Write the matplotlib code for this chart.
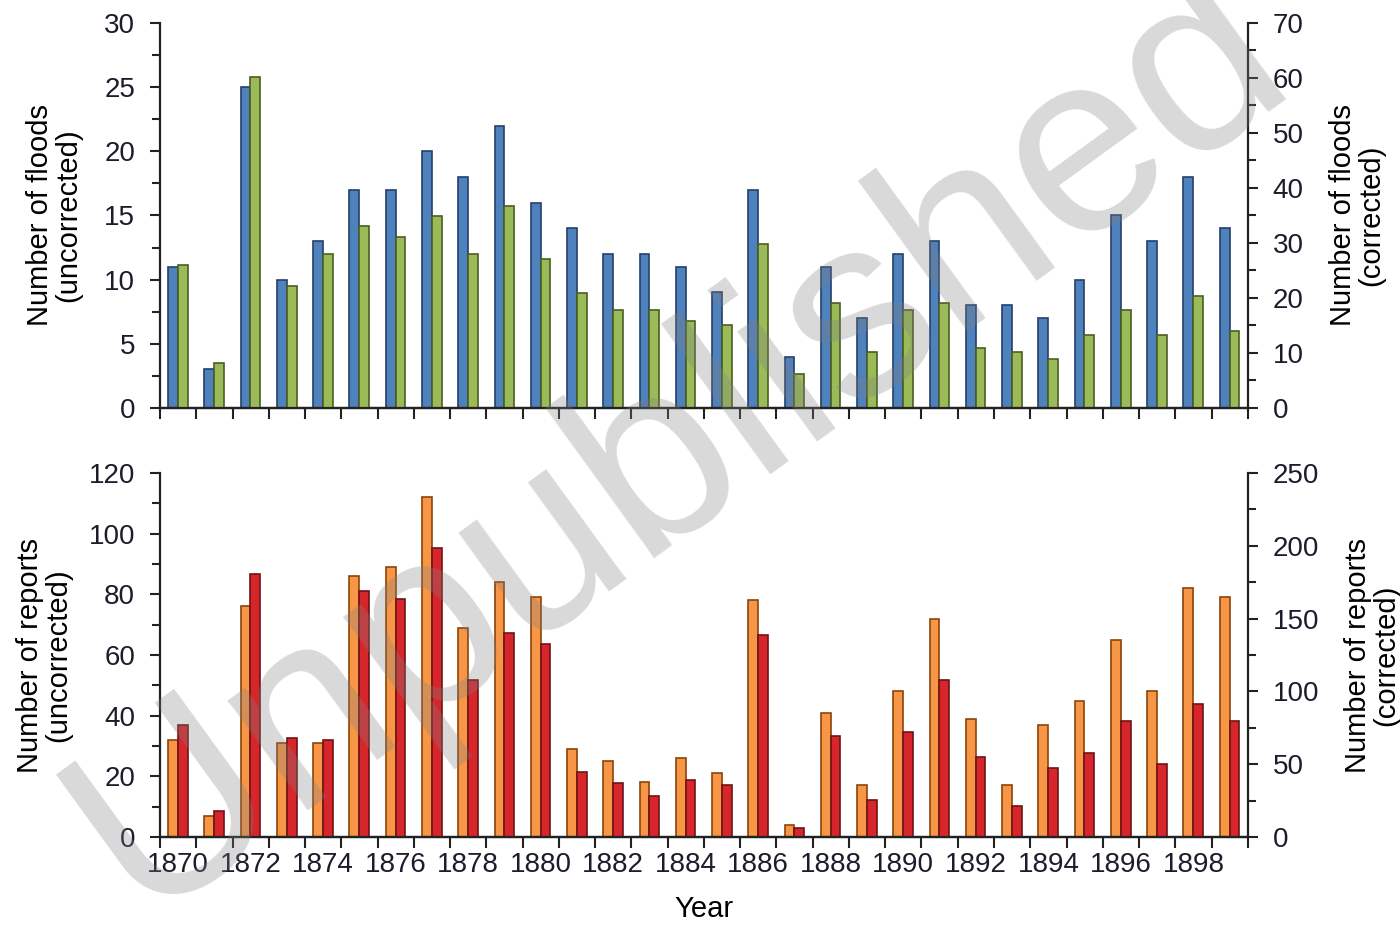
import numpy as np
import matplotlib
matplotlib.use("Agg")
import matplotlib.pyplot as plt

plt.rcParams['font.family'] = ['Liberation Sans', 'DejaVu Sans']

years = list(range(1870, 1900))

# floods per year
floods_uncorrected = [11, 3, 25, 10, 13, 17, 17, 20, 18, 22,
                      16, 14, 12, 12, 11, 9, 17, 4, 11, 7,
                      12, 13, 8, 8, 7, 10, 15, 13, 18, 14]
floods_corrected = [26, 8.1, 60.1, 22.1, 28, 33, 31, 34.9, 28, 36.8,
                    27.1, 20.9, 17.8, 17.8, 15.9, 15.1, 29.8, 6.2, 19.0, 10.1,
                    17.9, 19.1, 10.9, 10.1, 8.9, 13.3, 17.9, 13.3, 20.3, 14.0]

# reports per year
reports_uncorrected = [32, 7, 76, 31, 31, 86, 89, 112, 69, 84,
                       79, 29, 25, 18, 26, 21, 78, 4, 41, 17,
                       48, 72, 39, 17, 37, 45, 65, 48, 82, 79]
reports_corrected = [76.7, 17.9, 180.9, 67.8, 66.4, 169.2, 163.5, 198.8, 107.6, 140.1,
                     132.6, 44.7, 37.3, 28.4, 38.9, 35.7, 138.5, 6.2, 69.4, 25.7,
                     72.4, 107.6, 54.9, 21.1, 47.4, 57.7, 79.7, 50.4, 91.6, 79.7]

tick_color = '#1c1c2c'
fs_tick = 20
fs_label = 21

fig = plt.figure(figsize=(14, 9.26), dpi=100)
ax1 = fig.add_axes([0.1143, 0.5594, 0.777, 0.4158])
ax3 = fig.add_axes([0.1143, 0.0961, 0.777, 0.3931])
ax2 = ax1.twinx()
ax4 = ax3.twinx()

x = np.arange(len(years))
w = 0.27

ax1.bar(x - w / 2 - 0.005, floods_uncorrected, w, color='#4F81BD', edgecolor='#24406A', linewidth=1.2, zorder=2)
ax2.bar(x + w / 2 - 0.005, floods_corrected, w, color='#9BBB59', edgecolor='#4A5E22', linewidth=1.2, zorder=2)
ax3.bar(x - w / 2 - 0.005, reports_uncorrected, w, color='#F79646', edgecolor='#8C4408', linewidth=1.2, zorder=2)
ax4.bar(x + w / 2 - 0.005, reports_corrected, w, color='#D7262B', edgecolor='#6E1416', linewidth=1.2, zorder=2)

boundaries = np.arange(len(years) + 1) - 0.5

for a, lim, step in [(ax1, 30, 5), (ax2, 70, 10), (ax3, 120, 20), (ax4, 250, 50)]:
    a.set_ylim(0, lim)
    a.set_yticks(np.arange(0, lim + 1, step))
    a.set_yticks(np.arange(step / 2, lim, step), minor=True)
    a.set_xlim(-0.5, len(years) - 0.5)
    a.spines['top'].set_visible(False)
    for s in a.spines.values():
        s.set_linewidth(1.6)
        s.set_color('#222222')
    a.tick_params(axis='y', which='both', direction='out', width=1.5, colors='#222222',
                  labelcolor=tick_color, labelsize=fs_tick)
    a.tick_params(axis='y', which='major', length=7)
    a.tick_params(axis='y', which='minor', length=6)

for a in (ax1, ax3):
    a.spines['right'].set_visible(False)
    a.set_xticks(boundaries)
    a.set_xticklabels([])
    a.tick_params(axis='x', which='major', direction='out', length=8, width=1.5, colors='#222222')
    a.tick_params(axis='y', which='major', pad=11)
for a in (ax2, ax4):
    a.spines['left'].set_visible(False)
    a.tick_params(axis='y', which='major', pad=11)

ax3.set_xticks(x[::2], [str(y) for y in years[::2]], minor=True)
ax3.tick_params(axis='x', which='minor', length=0, pad=11, labelsize=fs_tick, labelcolor=tick_color)

ax1.set_ylabel('Number of floods\n(uncorrected)', fontsize=fs_label, labelpad=16, linespacing=1.0)
ax2.set_ylabel('Number of floods\n(corrected)', fontsize=fs_label, labelpad=18, linespacing=1.0,
               rotation=90)
ax3.set_ylabel('Number of reports\n(uncorrected)', fontsize=fs_label, labelpad=12, linespacing=1.0)
ax4.set_ylabel('Number of reports\n(corrected)', fontsize=fs_label, labelpad=18, linespacing=1.0,
               rotation=90)
ax3.set_xlabel('Year', fontsize=fs_label, labelpad=12)

# watermark
fig.text(0.485, 0.52, 'Unpublished', fontsize=185, color='#808080', alpha=0.3,
         rotation=36, ha='center', va='center', zorder=10)

fig.savefig('out.png', dpi=100)
